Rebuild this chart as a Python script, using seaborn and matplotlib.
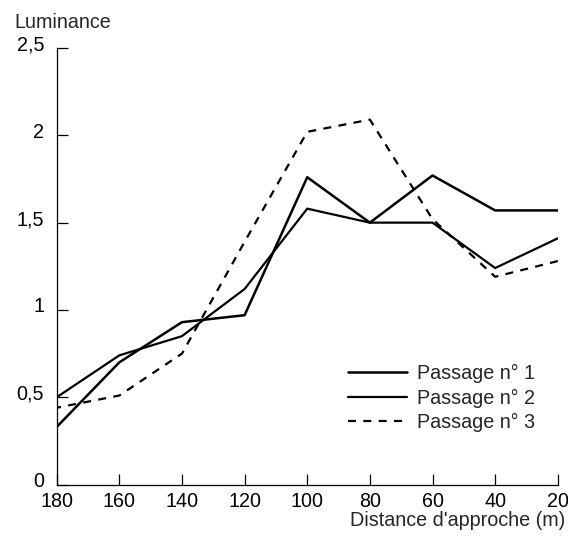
import matplotlib
matplotlib.use("Agg")
import matplotlib.pyplot as plt
import matplotlib.transforms as mtransforms
import seaborn as sns
import pandas as pd

# Data
distance = [180, 160, 140, 120, 100, 80, 60, 40, 20]
passage_1 = [0.33, 0.70, 0.93, 0.97, 1.76, 1.50, 1.77, 1.57, 1.57]
passage_2 = [0.50, 0.74, 0.85, 1.12, 1.58, 1.50, 1.50, 1.24, 1.41]
passage_3 = [0.44, 0.51, 0.75, 1.39, 2.02, 2.09, 1.52, 1.19, 1.28]
labels = ["Passage n\u00b0 1", "Passage n\u00b0 2", "Passage n\u00b0 3"]
y_ticks = [0, 0.5, 1, 1.5, 2, 2.5]
y_tick_labels = ["0", "0,5", "1", "1,5", "2", "2,5"]
x_ticks = [180, 160, 140, 120, 100, 80, 60, 40, 20]

sns.set_style("ticks")
plt.rcParams["font.family"] = ["Liberation Sans", "DejaVu Sans"]

FS = 14.2
fig = plt.figure(figsize=(5.68, 5.37), dpi=100)
ax = fig.add_axes([0.0998, 0.0976, 0.982 - 0.0998, 0.9106 - 0.0976])

df = pd.DataFrame({"d": distance, "p1": passage_1, "p2": passage_2, "p3": passage_3})

sns.lineplot(data=df, x="d", y="p1", ax=ax, color="black", linewidth=1.8, label=labels[0])
sns.lineplot(data=df, x="d", y="p2", ax=ax, color="black", linewidth=1.6, label=labels[1])
sns.lineplot(data=df, x="d", y="p3", ax=ax, color="black", linewidth=1.6, label=labels[2])
ax.lines[2].set_dashes((3.6, 3.3))

ax.set_xlim(180, 20)
ax.set_ylim(0, 2.5)
ax.set_xticks(x_ticks)
ax.set_xticklabels([str(v) for v in x_ticks])
ax.set_yticks(y_ticks)
ax.set_yticklabels(y_tick_labels)
ax.set_xlabel("")
ax.set_ylabel("")

for s in ["top", "right"]:
    ax.spines[s].set_visible(False)
for s in ["left", "bottom"]:
    ax.spines[s].set_linewidth(0.9)
    ax.spines[s].set_color("black")

ax.tick_params(axis="both", direction="in", length=8, width=0.9, colors="black",
               labelsize=FS)
ax.tick_params(axis="x", pad=5)
ax.tick_params(axis="y", pad=9)
off = mtransforms.ScaledTranslation(0, 0.05, fig.dpi_scale_trans)
for lab in ax.get_yticklabels():
    lab.set_transform(lab.get_transform() + off)

ax.legend(loc="upper left",
          bbox_to_anchor=((348 - 56.7) / (558 - 56.7), (484.6 - 364) / (484.6 - 48)),
          frameon=False, fontsize=FS, handlelength=3.0, handletextpad=0.5,
          labelspacing=0.28, borderpad=0, borderaxespad=0)

fig.text(14 / 568, 1 - 23 / 537, "Luminance", fontsize=FS, va="center", ha="left")
fig.text(565 / 568, 1 - 521 / 537, "Distance d'approche (m)", fontsize=FS, va="center", ha="right")

fig.savefig("out.png", dpi=100)
